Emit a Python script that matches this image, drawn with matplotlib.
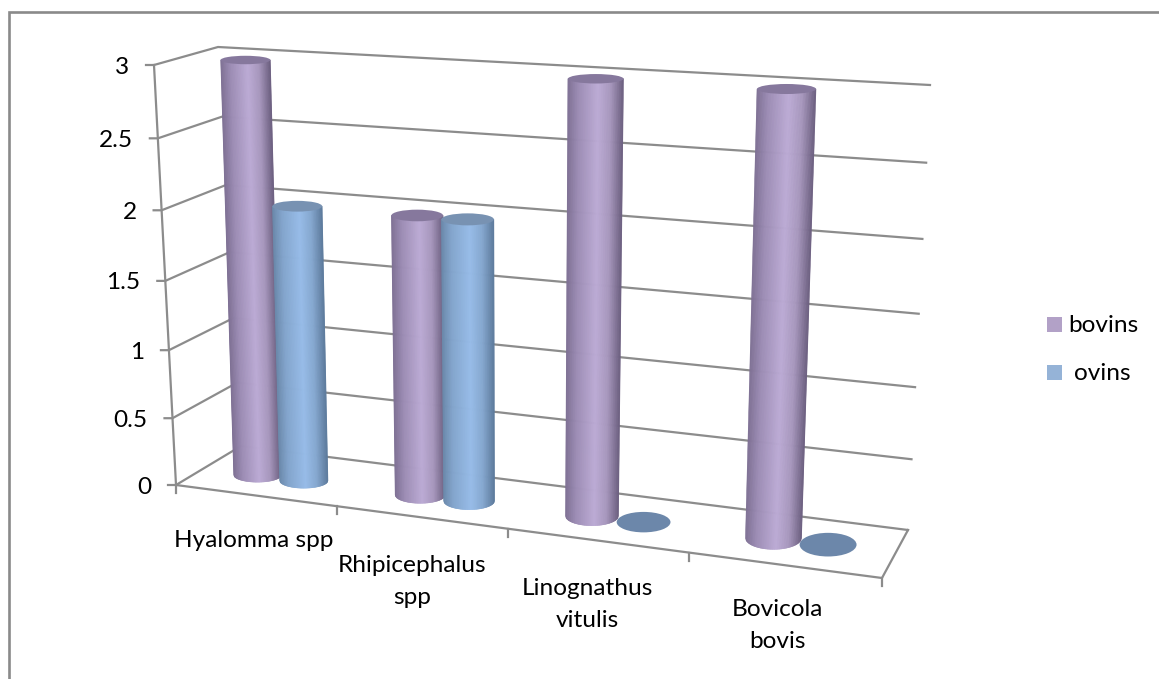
import numpy as np
import matplotlib
matplotlib.use("Agg")
import matplotlib.pyplot as plt
from matplotlib.collections import PolyCollection
from matplotlib.colors import to_rgb
from matplotlib.patches import Ellipse, Rectangle

# Data
categories = ["Hyalomma spp", "Rhipicephalus\nspp", "Linognathus\nvitulis", "Bovicola\nbovis"]
bovins = [3, 2, 3, 3]
ovins = [2, 2, 0, 0]
value_ticks = [0, 0.5, 1, 1.5, 2, 2.5, 3]
tick_labels = ["0", "0.5", "1", "1.5", "2", "2.5", "3"]
series_names = ["bovins", "ovins"]

# Box geometry in figure pixels
FRONT_LOW, FRONT_HIGH = (176, 485), (154, 65)
BACK_L_LOW, BACK_L_HIGH = (241, 446), (218, 47)
BACK_R_LOW, BACK_R_HIGH = (908, 530), (930, 85)
FRONT_R_LOW = (882, 578)
GRID = "#8c8c8c"
GRID_LW = 1.6
FONT = "Lato"
FS = 17.6

# Anchors of the plane holding the cylinders: (category, value) -> pixel
PLANE_SRC = [(0, 0), (3, 0), (0, 3), (3, 3)]
PLANE_DST = [(257.5, 475), (773.5, 538), (245.5, 60), (786.5, 89)]
SERIES_OFFSET = {"bovins": 0.0, "ovins": 0.29}
BAR_HALF = 0.15

RAMPS = {
    "bovins": (["#7d6f93", "#9c8cb4", "#bcabd5", "#a797bd", "#6c5f80"], "#86789d"),
    "ovins": (["#6a88aa", "#83a5cd", "#97bce8", "#86a8d0", "#5d7b9d"], "#7892b2"),
}
RAMP_STOPS = [-1, -0.6, 0.1, 0.55, 1]
DISC = "#6c87aa"
LEGEND = {"bovins": "#b2a1c7", "ovins": "#95b3d7"}

# Horizontal and vertical nudges of the category labels
LABEL_NUDGE = [(-2, 0), (-9, 0), (-10, 0), (-7, -4)]


def homography(src, dst):
    rows, rhs = [], []
    for (u, v), (x, y) in zip(src, dst):
        rows.append([u, v, 1, 0, 0, 0, -u * x, -v * x])
        rows.append([0, 0, 0, u, v, 1, -u * y, -v * y])
        rhs += [x, y]
    return np.append(np.linalg.solve(np.array(rows, float), np.array(rhs, float)), 1).reshape(3, 3)


H = homography(PLANE_SRC, PLANE_DST)


def project(cat, value):
    p = H @ np.array([cat, value, 1.0])
    return p[:2] / p[2]


def foreshorten(s, k):
    return s / (s + k * (1 - s))


def along(a, b, t):
    a, b = np.array(a, float), np.array(b, float)
    return a + (b - a) * t


def height_point(low, high, value):
    # Heights shrink slightly towards the bottom of the box
    t = foreshorten((3 - value) / 3, 0.9455)
    return along(high, low, t)


def ramp(name, t):
    cols = np.array([to_rgb(c) for c in RAMPS[name][0]])
    return [np.interp(t, RAMP_STOPS, cols[:, i]) for i in range(3)]


def tilt(cat, value):
    base = 0.30 + 0.035 * cat
    return base + (0.17 - base) * value / 3


def cylinder(ax, name, cat_idx, value, z):
    c = cat_idx + SERIES_OFFSET[name]
    base = project(c, 0)
    wb = project(c + BAR_HALF, 0)[0] - project(c - BAR_HALF, 0)[0]
    bb = wb / 2 * tilt(c, 0)
    if value == 0:
        ax.add_patch(Ellipse(base, wb, 2 * bb, fc=DISC, ec="none", zorder=z + 0.2))
        return
    top = project(c, value)
    wt = project(c + BAR_HALF, value)[0] - project(c - BAR_HALF, value)[0]
    ts = np.linspace(-1, 1, 81)
    strips, colors = [], []
    for t0, t1 in zip(ts[:-1], ts[1:]):
        b0 = (base[0] + t0 * wb / 2, base[1] + bb * np.sqrt(max(0, 1 - t0**2)))
        b1 = (base[0] + t1 * wb / 2, base[1] + bb * np.sqrt(max(0, 1 - t1**2)))
        a0 = (top[0] + t0 * wt / 2, top[1])
        a1 = (top[0] + t1 * wt / 2, top[1])
        strips.append([a0, a1, b1, b0])
        colors.append(ramp(name, (t0 + t1) / 2))
    ax.add_collection(PolyCollection(strips, facecolors=colors, edgecolors=colors,
                                     linewidths=0.4, zorder=z))
    ax.add_patch(Ellipse(top, wt, wt * tilt(c, value), fc=RAMPS[name][1], ec="none", zorder=z + 0.1))


fig = plt.figure(figsize=(11.59, 6.79), dpi=100)
ax = fig.add_axes([0, 0, 1, 1])
ax.set_xlim(0, 1159)
ax.set_ylim(679, 0)
ax.axis("off")

# Outer frame: only the top and left sides show
ax.plot([9, 9, 1159], [679, 12, 12], color="#8a8a8a", lw=1.9, solid_joinstyle="miter", zorder=1)

# Walls and value ticks
for v, lab in zip(value_ticks, tick_labels):
    f = height_point(FRONT_LOW, FRONT_HIGH, v)
    bl = height_point(BACK_L_LOW, BACK_L_HIGH, v)
    br = height_point(BACK_R_LOW, BACK_R_HIGH, v)
    ax.plot([f[0] - 8, f[0], bl[0], br[0]], [f[1], f[1], bl[1], br[1]], color=GRID, lw=GRID_LW, zorder=2)
    ax.text(f[0] - 25, f[1] + 2, lab, ha="right", va="center", fontsize=FS, family=FONT, color="black")

ax.plot(*zip(FRONT_LOW, FRONT_HIGH), color=GRID, lw=GRID_LW, zorder=2)
ax.plot(*zip(FRONT_LOW, FRONT_R_LOW, BACK_R_LOW), color=GRID, lw=GRID_LW, zorder=2)

# Category ticks along the front edge of the floor
for i in range(len(categories) + 1):
    p = along(FRONT_LOW, FRONT_R_LOW, foreshorten(i / len(categories), 1.128))
    ax.plot([p[0], p[0]], [p[1], p[1] + 8], color=GRID, lw=GRID_LW, zorder=2)

# Cylinders, back to front within each group
z = 3
for i in range(len(categories)):
    cylinder(ax, "bovins", i, bovins[i], z)
    cylinder(ax, "ovins", i, ovins[i], z + 1)
    z += 2

# Category labels sit under the floor and step down with it
for i, lab in enumerate(categories):
    p = along(FRONT_LOW, FRONT_R_LOW, foreshorten((i + 0.5) / len(categories), 1.128))
    dx, dy = LABEL_NUDGE[i]
    extra = 19 if "\n" in lab else 0
    ax.text(p[0] + dx, p[1] + 45 + extra + dy, lab, ha="center", va="center",
            fontsize=FS, family=FONT, color="black", linespacing=1.65)

# Legend
for y, name, tx in zip((317, 365), series_names, (1068, 1074)):
    ax.add_patch(Rectangle((1047, y), 15, 15, fc=LEGEND[name], ec="none"))
    ax.text(tx, y + 8, name, ha="left", va="center", fontsize=FS, family=FONT, color="black")

fig.savefig("out.png", dpi=100)
